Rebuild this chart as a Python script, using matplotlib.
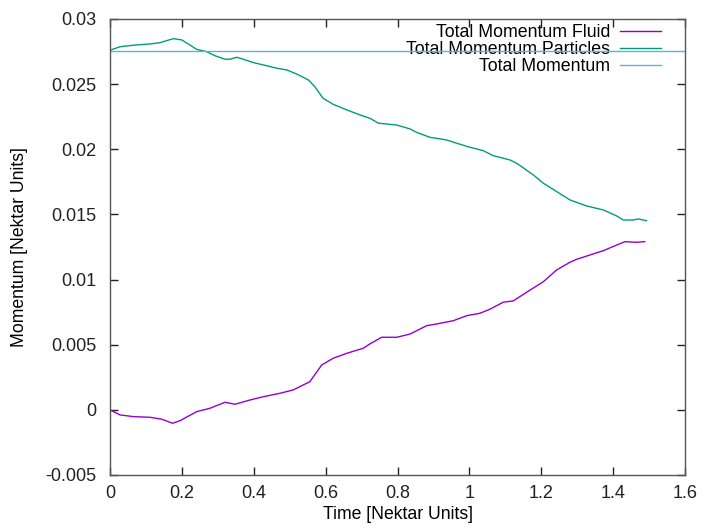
#!/usr/bin/env python3
"""Momentum exchange between fluid and particles, gnuplot-like look."""

import matplotlib
matplotlib.use('Agg')
import matplotlib.pyplot as plt
from matplotlib.ticker import FuncFormatter

# Data

# Total momentum of the particles
t_particles = [0.000, 0.028, 0.070, 0.111, 0.139, 0.176, 0.200, 0.218, 0.241,
               0.269, 0.292, 0.320, 0.334, 0.353, 0.371, 0.399, 0.427, 0.464,
               0.492, 0.519, 0.552, 0.570, 0.593, 0.621, 0.659, 0.696, 0.723,
               0.747, 0.798, 0.835, 0.853, 0.890, 0.937, 0.965, 1.002, 1.039,
               1.066, 1.113, 1.132, 1.178, 1.206, 1.243, 1.280, 1.326, 1.373,
               1.410, 1.428, 1.456, 1.470, 1.493]
m_particles = [0.02760, 0.02787, 0.02800, 0.02808, 0.02818, 0.02849, 0.02839,
               0.02808, 0.02767, 0.02749, 0.02718, 0.02691, 0.02691, 0.02706,
               0.02691, 0.02665, 0.02647, 0.02622, 0.02609, 0.02578, 0.02532,
               0.02480, 0.02391, 0.02345, 0.02302, 0.02263, 0.02238, 0.02200,
               0.02186, 0.02156, 0.02130, 0.02092, 0.02071, 0.02046, 0.02015,
               0.01989, 0.01951, 0.01918, 0.01892, 0.01803, 0.01739, 0.01675,
               0.01611, 0.01565, 0.01534, 0.01488, 0.01457, 0.01457, 0.01465,
               0.01452]

# Total momentum of the fluid
t_fluid = [0.000, 0.028, 0.065, 0.111, 0.144, 0.174, 0.195, 0.241, 0.278,
           0.320, 0.348, 0.390, 0.427, 0.473, 0.510, 0.556, 0.589, 0.621,
           0.659, 0.705, 0.723, 0.756, 0.798, 0.835, 0.881, 0.909, 0.955,
           0.993, 1.029, 1.057, 1.094, 1.122, 1.159, 1.206, 1.243, 1.280,
           1.299, 1.336, 1.373, 1.410, 1.433, 1.465, 1.488]
m_fluid = [0.00000, -0.00039, -0.00052, -0.00057, -0.00072, -0.00103,
           -0.00083, -0.00014, 0.00012, 0.00058, 0.00043, 0.00076, 0.00101,
           0.00127, 0.00153, 0.00216, 0.00344, 0.00396, 0.00434, 0.00473,
           0.00506, 0.00557, 0.00557, 0.00582, 0.00646, 0.00659, 0.00684,
           0.00723, 0.00741, 0.00772, 0.00826, 0.00836, 0.00902, 0.00984,
           0.01074, 0.01133, 0.01156, 0.01189, 0.01222, 0.01265, 0.01291,
           0.01286, 0.01291]

# Total momentum (constant)
t_total = [0.0, 1.6]
m_total = [0.02755, 0.02755]

x_ticks = [0.0, 0.2, 0.4, 0.6, 0.8, 1.0, 1.2, 1.4, 1.6]
y_ticks = [-0.005, 0.0, 0.005, 0.01, 0.015, 0.02, 0.025, 0.03]

# Figure

plt.rcParams['font.family'] = ['Liberation Sans', 'DejaVu Sans']
plt.rcParams['font.size'] = 13

fig = plt.figure(figsize=(7.01, 5.30), dpi=100)
ax = fig.add_axes([0.1569, 0.1038, 0.8203, 0.8604])

ax.plot(t_fluid, m_fluid, color='#9400d3', lw=1.0, label='Total Momentum Fluid')
ax.plot(t_particles, m_particles, color='#009e73', lw=1.0,
        label='Total Momentum Particles')
ax.plot(t_total, m_total, color='#56b4e9', lw=1.0, label='Total Momentum')

ax.set_xlim(0, 1.6)
ax.set_ylim(-0.005, 0.03)
ax.set_xticks(x_ticks)
ax.set_yticks(y_ticks)
ax.xaxis.set_major_formatter(FuncFormatter(lambda v, p: '%g' % round(v, 6)))
ax.yaxis.set_major_formatter(FuncFormatter(lambda v, p: '%g' % round(v, 6)))
ax.tick_params(direction='in', length=6, width=1, top=True, right=True,
               labelsize=13, colors='#222222')
ax.tick_params(axis='y', pad=10)
ax.tick_params(axis='x', pad=7)
for spine in ax.spines.values():
    spine.set_color('#555555')
    spine.set_linewidth(1.0)

ax.set_xlabel('Time [Nektar Units]', fontsize=12.7, labelpad=3)
ax.set_ylabel('Momentum [Nektar Units]', fontsize=12.7, labelpad=12)

# Legend: right-aligned text followed by a line sample, as gnuplot does
leg = ax.legend(loc='upper right', frameon=False, markerfirst=False,
                handlelength=2.27, handletextpad=0.58, labelspacing=0.0,
                borderaxespad=0.0, fontsize=12.8,
                bbox_to_anchor=(0.97, 1.005))
leg.set_zorder(1)

fig.savefig('out.png', dpi=100)
